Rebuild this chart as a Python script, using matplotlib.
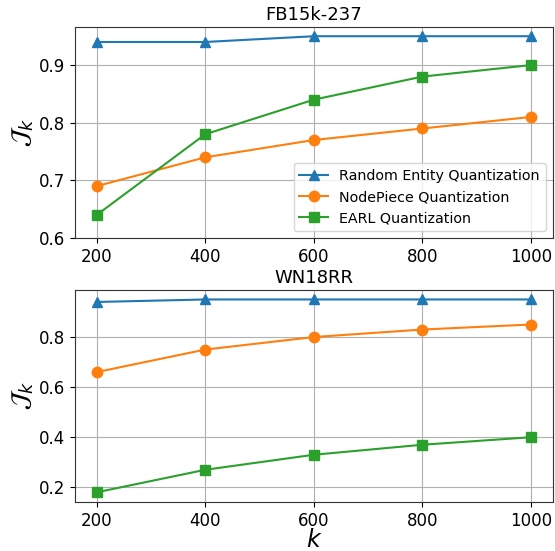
import matplotlib
matplotlib.use("Agg")
import matplotlib.pyplot as plt

k = [200, 400, 600, 800, 1000]
fb_random = [0.94, 0.94, 0.95, 0.95, 0.95]
fb_nodepiece = [0.69, 0.74, 0.77, 0.79, 0.81]
fb_earl = [0.64, 0.78, 0.84, 0.88, 0.90]
wn_random = [0.94, 0.95, 0.95, 0.95, 0.95]
wn_nodepiece = [0.66, 0.75, 0.80, 0.83, 0.85]
wn_earl = [0.18, 0.27, 0.33, 0.37, 0.40]
labels = ["Random Entity Quantization", "NodePiece Quantization", "EARL Quantization"]
titles = ["FB15k-237", "WN18RR"]

fig = plt.figure(figsize=(5.55, 5.51), dpi=100)
ax1 = fig.add_axes([0.135, 0.568, 0.861, 0.383])
ax2 = fig.add_axes([0.135, 0.089, 0.861, 0.385])

ms = 7.5
for ax, series, title in [(ax1, (fb_random, fb_nodepiece, fb_earl), titles[0]),
                          (ax2, (wn_random, wn_nodepiece, wn_earl), titles[1])]:
    ax.plot(k, series[0], marker='^', color='#1f77b4', markersize=ms, label=labels[0])
    ax.plot(k, series[1], marker='o', color='#ff7f0e', markersize=ms, label=labels[1])
    ax.plot(k, series[2], marker='s', color='#2ca02c', markersize=ms, label=labels[2])
    ax.set_title(title, fontsize=13, pad=5)
    ax.grid(True, color='#b0b0b0', linewidth=0.8)
    ax.set_xticks(k)
    ax.tick_params(labelsize=12)
    for s in ax.spines.values():
        s.set_color('#333333')
    ax.set_ylabel(r'$\mathcal{J}_k$', fontsize=18, labelpad=2)

ax1.set_ylim(0.6, 0.966)
ax1.set_yticks([0.6, 0.7, 0.8, 0.9])
ax1.legend(loc='lower right', fontsize=10.3, borderaxespad=0.5)
ax2.set_yticks([0.2, 0.4, 0.6, 0.8])
ax2.set_xlabel(r'$k$', fontsize=17, labelpad=-1)

fig.savefig("out.png", dpi=100)
